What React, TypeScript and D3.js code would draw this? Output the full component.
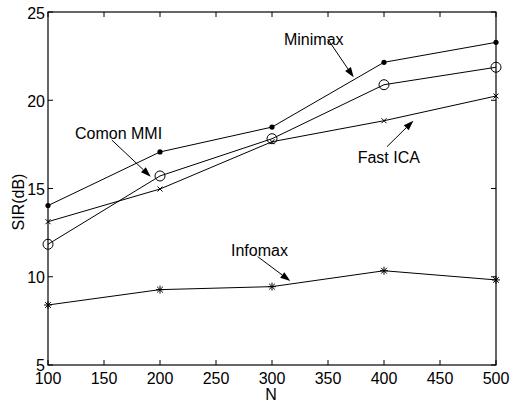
import * as d3 from "d3";
import { useEffect, useRef } from "react";

const nValues = [100, 200, 300, 400, 500];
const minimax = [14.03, 17.07, 18.48, 22.15, 23.28];
const comonMMI = [11.84, 15.71, 17.82, 20.88, 21.87];
const fastICA = [13.12, 14.97, 17.65, 18.84, 20.24];
const infomax = [8.4, 9.27, 9.44, 10.34, 9.82];

const xTicks = [100, 150, 200, 250, 300, 350, 400, 450, 500];
const yTicks = [5, 10, 15, 20, 25];

// label, text position (data), arrow start (data), arrow tip (data)
const notes = [
  { label: "Minimax", tx: 310.7, ty: 23.13, x1: 349.7, y1: 23.47, x2: 372.9, y2: 21.3 },
  { label: "Comon MMI", tx: 124.1, ty: 17.79, x1: 156.9, y1: 17.75, x2: 191.7, y2: 15.67 },
  { label: "Fast ICA", tx: 376.5, ty: 16.46, x1: 402.7, y1: 17.37, x2: 426.2, y2: 18.84 },
  { label: "Infomax", tx: 263.4, ty: 11.18, x1: 287.2, y1: 11.14, x2: 316.3, y2: 9.76 },
];

export default function App() {
  const ref = useRef<SVGSVGElement>(null);

  useEffect(() => {
    const width = 512,
      height = 402;
    const left = 48,
      right = 496,
      top = 12,
      bottom = 365;
    const font = "'Liberation Sans', Arial, sans-serif";

    const svg = d3.select(ref.current);
    svg.selectAll("*").remove();
    svg.attr("width", width).attr("height", height);

    const x = d3.scaleLinear().domain([100, 500]).range([left, right]);
    const y = d3.scaleLinear().domain([5, 25]).range([bottom, top]);

    svg
      .append("rect")
      .attr("width", width)
      .attr("height", height)
      .attr("fill", "#fff");

    // ticks (inward, on all four sides)
    const tl = 5;
    const g = svg.append("g").attr("stroke", "#000").attr("stroke-width", 1);
    xTicks.forEach((t) => {
      g.append("line").attr("x1", x(t)).attr("x2", x(t)).attr("y1", bottom).attr("y2", bottom - tl);
      g.append("line").attr("x1", x(t)).attr("x2", x(t)).attr("y1", top).attr("y2", top + tl);
    });
    yTicks.forEach((t) => {
      g.append("line").attr("x1", left).attr("x2", left + tl).attr("y1", y(t)).attr("y2", y(t));
      g.append("line").attr("x1", right).attr("x2", right - tl).attr("y1", y(t)).attr("y2", y(t));
    });

    svg
      .append("rect")
      .attr("x", left)
      .attr("y", top)
      .attr("width", right - left)
      .attr("height", bottom - top)
      .attr("fill", "none")
      .attr("stroke", "#000")
      .attr("stroke-width", 1.2);

    const txt = svg.append("g").attr("font-family", font).attr("font-size", 16).attr("fill", "#000");
    xTicks.forEach((t) => {
      txt.append("text").attr("x", x(t)).attr("y", bottom + 19).attr("text-anchor", "middle").text(t);
    });
    yTicks.forEach((t) => {
      txt
        .append("text")
        .attr("x", left - 3)
        .attr("y", y(t) + (t === 5 ? 5.5 : 6.5))
        .attr("text-anchor", "end")
        .text(t);
    });
    txt.append("text").attr("x", 271).attr("y", 399.5).attr("text-anchor", "middle").text("N");
    txt
      .append("text")
      .attr("transform", "translate(23.5,202) rotate(-90)")
      .attr("text-anchor", "middle")
      .text("SIR(dB)");

    const line = d3
      .line<number>()
      .x((_, i) => x(nValues[i]))
      .y((d) => y(d));

    const series = [minimax, comonMMI, fastICA, infomax];
    series.forEach((s) => {
      svg
        .append("path")
        .attr("d", line(s))
        .attr("fill", "none")
        .attr("stroke", "#000")
        .attr("stroke-width", 1);
    });

    // markers
    svg
      .append("g")
      .selectAll("circle")
      .data(minimax)
      .join("circle")
      .attr("cx", (_, i) => x(nValues[i]))
      .attr("cy", (d) => y(d))
      .attr("r", 2.6)
      .attr("fill", "#000");

    svg
      .append("g")
      .selectAll("circle")
      .data(comonMMI)
      .join("circle")
      .attr("cx", (_, i) => x(nValues[i]))
      .attr("cy", (d) => y(d))
      .attr("r", 5)
      .attr("fill", "none")
      .attr("stroke", "#000")
      .attr("stroke-width", 1);

    const cross = (s: number) => `M${-s},${-s}L${s},${s}M${-s},${s}L${s},${-s}`;
    const star = (s: number) =>
      `${cross(s * 0.72)}M0,${-s}L0,${s}M${-s},0L${s},0`;

    svg
      .append("g")
      .selectAll("path")
      .data(fastICA)
      .join("path")
      .attr("transform", (d, i) => `translate(${x(nValues[i])},${y(d)})`)
      .attr("d", cross(2.5))
      .attr("stroke", "#000")
      .attr("stroke-width", 1);

    svg
      .append("g")
      .selectAll("path")
      .data(infomax)
      .join("path")
      .attr("transform", (d, i) => `translate(${x(nValues[i])},${y(d)})`)
      .attr("d", star(4))
      .attr("stroke", "#000")
      .attr("stroke-width", 1);

    // annotations
    const ann = svg.append("g");
    notes.forEach((n) => {
      const sx = x(n.x1),
        sy = y(n.y1),
        ex = x(n.x2),
        ey = y(n.y2);
      const ang = Math.atan2(ey - sy, ex - sx);
      const hl = 10,
        hw = 3.5;
      const bx = ex - hl * Math.cos(ang),
        by = ey - hl * Math.sin(ang);
      ann
        .append("line")
        .attr("x1", sx)
        .attr("y1", sy)
        .attr("x2", bx)
        .attr("y2", by)
        .attr("stroke", "#000")
        .attr("stroke-width", 1);
      const px = -Math.sin(ang) * hw,
        py = Math.cos(ang) * hw;
      ann
        .append("path")
        .attr("d", `M${ex},${ey}L${bx + px},${by + py}L${bx - px},${by - py}Z`)
        .attr("fill", "#000");
      ann
        .append("text")
        .attr("x", x(n.tx))
        .attr("y", y(n.ty))
        .attr("font-family", font)
        .attr("font-size", 16)
        .text(n.label);
    });
  }, []);

  return (
    <svg ref={ref} style={{ position: "absolute", left: 0, top: 0, display: "block" }} />
  );
}
